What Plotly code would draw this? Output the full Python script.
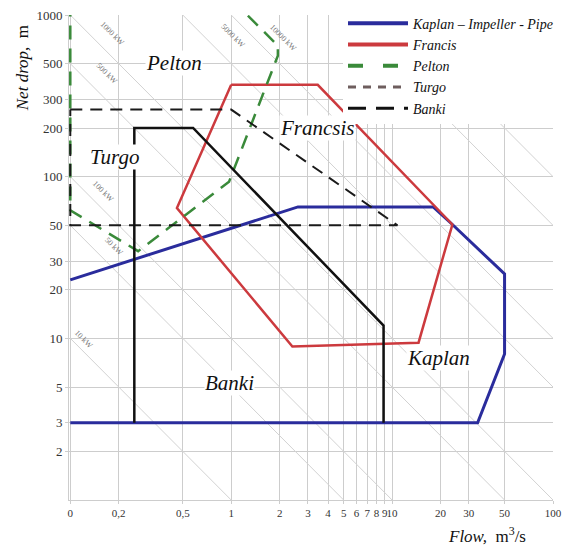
import numpy as np
import plotly.graph_objects as go

# ---------------- data ----------------
x_tickvals = [0.1, 0.2, 0.5, 1, 2, 3, 4, 5, 6, 7, 8, 9, 10, 20, 30, 50, 100]
x_ticktext = ["0", "0,2", "0,5", "1", "2", "3", "4", "5", "6", "7", "8", "9", "10", "20", "30", "50", "100"]
y_tickvals = [2, 3, 5, 10, 20, 30, 50, 100, 200, 300, 500, 1000]
y_ticktext = ["2", "3", "5", "10", "20", "30", "50", "100", "200", "300", "500", "1000"]

kaplan_q = [0.1, 2.6, 18, 23.7, 50, 50, 34, 0.1]
kaplan_h = [23, 65, 65, 50.6, 25, 8, 3, 3]

francis_q = [1.0, 3.45, 23.7, 14.6, 2.4, 0.46, 1.0]
francis_h = [370, 370, 50.6, 9.4, 8.9, 64, 370]

pelton_q = [1.27, 1.95, 1.95, 0.97, 0.264, 0.117, 0.1, 0.1]
pelton_h = [990, 646, 560, 93, 34.6, 57, 62, 1000]

turgo_q = [0.1, 1.0, 10.8, 0.1, 0.1]
turgo_h = [260, 260, 50, 50, 260]

banki_q = [0.25, 0.25, 0.58, 8.85, 8.85]
banki_h = [3, 200, 200, 12, 3]

power_kw = [10, 50, 100, 500, 1000, 5000, 10000, 50000, 100000]
kw_per_unit = 10.0  # kW per (m3/s * m)

power_labels = ["10 kW", "50 kW", "100 kW", "500 kW", "1000 kW", "5000 kW", "10000 kW"]
power_label_q = [0.122, 0.187, 0.160, 0.169, 0.182, 1.02, 2.09]
power_label_h = [9.9, 37, 80.5, 435, 764, 743, 722]

region_names = ["Pelton", "Francsis", "Turgo", "Banki", "Kaplan"]
region_q = [0.44, 3.45, 0.187, 0.98, 19.4]
region_h = [508, 201, 132, 5.3, 7.6]

legend_names = ["Kaplan – Impeller - Pipe", "Francis", "Pelton", "Turgo", "Banki"]

# ---------------- styles ----------------
SERIF = "Liberation Serif, Times New Roman, Tinos, DejaVu Serif, serif"
GRID = "#cdcdcd"
C_KAPLAN = "#2a2c9c"
C_FRANCIS = "#cc3a3e"
C_PELTON = "#3a8a3a"
C_TURGO = "#1a1a1a"
C_TURGO_LEG = "#6e5e5e"
C_BANKI = "#111111"

fig = go.Figure()

# iso-power diagonal lines
for p in power_kw:
    c = p / kw_per_unit
    q0 = max(0.1, c / 1000.0)
    q1 = min(100.0, c / 1.0)
    if q1 <= q0:
        continue
    fig.add_trace(go.Scatter(x=[q0, q1], y=[c / q0, c / q1], mode="lines",
                             line=dict(color="#d2d2d2", width=1),
                             showlegend=False, hoverinfo="skip"))

# turbine regions
fig.add_trace(go.Scatter(x=kaplan_q, y=kaplan_h, mode="lines",
                         line=dict(color=C_KAPLAN, width=3), showlegend=False))
fig.add_trace(go.Scatter(x=francis_q, y=francis_h, mode="lines",
                         line=dict(color=C_FRANCIS, width=2.5), showlegend=False))
fig.add_trace(go.Scatter(x=pelton_q, y=pelton_h, mode="lines",
                         line=dict(color=C_PELTON, width=2.5, dash="14px,9px"), showlegend=False))
fig.add_trace(go.Scatter(x=turgo_q, y=turgo_h, mode="lines",
                         line=dict(color=C_TURGO, width=2, dash="12px,8px"), showlegend=False))
fig.add_trace(go.Scatter(x=banki_q, y=banki_h, mode="lines",
                         line=dict(color=C_BANKI, width=2.5), showlegend=False))

# legend entries
leg_styles = [
    dict(color=C_KAPLAN, width=4),
    dict(color=C_FRANCIS, width=4),
    dict(color=C_PELTON, width=4, dash="15px,20px"),
    dict(color=C_TURGO_LEG, width=3, dash="8px,7px"),
    dict(color=C_BANKI, width=3, dash="18px,10px"),
]
for name, st in zip(legend_names, leg_styles):
    fig.add_trace(go.Scatter(x=[None], y=[None], mode="lines", name=name, line=st))

L, R, T, B = 69, 24, 8, 47
W, H = 577, 547
pw, ph = W - L - R, H - T - B

annotations = []
for t, q, h in zip(power_labels, power_label_q, power_label_h):
    annotations.append(dict(x=np.log10(q), y=np.log10(h), xref="x", yref="y", text=t,
                            showarrow=False, textangle=45,
                            font=dict(family=SERIF, size=8, color="#777777")))
for t, q, h in zip(region_names, region_q, region_h):
    annotations.append(dict(x=np.log10(q), y=np.log10(h), xref="x", yref="y", text=t,
                            showarrow=False, bgcolor="white", borderpad=0,
                            font=dict(family=SERIF, size=21, color="#111111", style="italic")))
annotations.append(dict(x=(22 - L) / pw, y=(H - B - 62) / ph, xref="paper", yref="paper",
                        text="<i>Net drop,</i>  m",
                        showarrow=False, textangle=-90, xanchor="center", yanchor="middle",
                        font=dict(family=SERIF, size=17, color="#111111")))
annotations.append(dict(x=(487 - L) / pw, y=(H - B - 535) / ph, xref="paper", yref="paper",
                        text="<i>Flow,</i>  m<sup>3</sup>/s",
                        showarrow=False, xanchor="center", yanchor="middle",
                        font=dict(family=SERIF, size=17, color="#111111")))

fig.update_layout(
    width=W, height=H,
    margin=dict(l=L, r=R, t=T, b=B),
    paper_bgcolor="white", plot_bgcolor="white",
    font=dict(family=SERIF, color="#333333"),
    annotations=annotations,
    legend=dict(x=(343 - L) / pw, y=1.015, xanchor="left", yanchor="top",
                bgcolor="white", borderwidth=0, itemwidth=60,
                font=dict(family=SERIF, size=14, color="#111111", style="italic"),
                tracegroupgap=0),
    showlegend=True,
)
fig.update_xaxes(type="log", range=[-1.008, 2.0], tickvals=x_tickvals, ticktext=x_ticktext,
                 tickangle=0,
                 showgrid=True, gridcolor=GRID, gridwidth=1, zeroline=False,
                 showline=True, linecolor=GRID, ticks="outside", ticklen=3, tickcolor=GRID,
                 tickfont=dict(family=SERIF, size=11, color="#333333"))
fig.update_yaxes(type="log", range=[0, 3.0], tickvals=y_tickvals, ticktext=y_ticktext,
                 showgrid=True, gridcolor=GRID, gridwidth=1, zeroline=False,
                 showline=True, linecolor=GRID, ticks="outside", ticklen=3, tickcolor=GRID,
                 tickfont=dict(family=SERIF, size=13, color="#333333"))

fig.write_html("out.html")
